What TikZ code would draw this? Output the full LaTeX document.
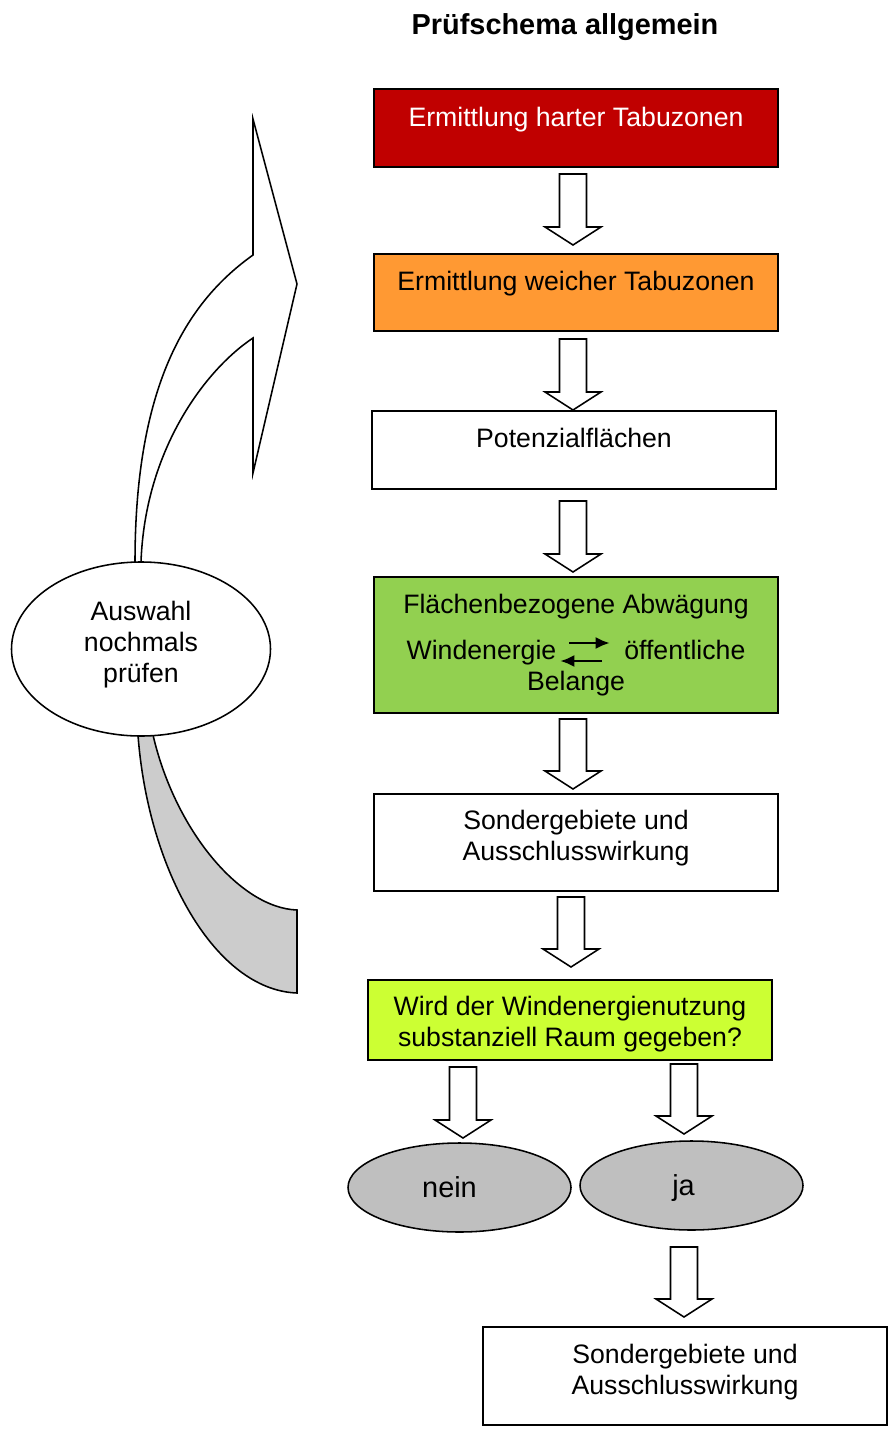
\documentclass[tikz,border=0pt]{standalone}
\usepackage{fontspec}
\setmainfont{Liberation Sans}
\usetikzlibrary{shapes.geometric,arrows.meta}
\definecolor{taburot}{RGB}{192,0,0}
\definecolor{tabuorange}{RGB}{255,153,51}
\definecolor{abwgruen}{RGB}{146,208,80}
\definecolor{fragegelb}{RGB}{204,255,51}
\definecolor{ovalgrau}{RGB}{191,191,191}
\definecolor{bogengrau}{RGB}{204,204,204}
\newcommand\pxl{0.45pt}
\newcommand\blockpfeil[3]{\draw[pfeil] (#1-13.5,#2)--(#1+13.5,#2)--(#1+13.5,#3-18)--(#1+28,#3-18)--(#1,#3)--(#1-28,#3-18)--(#1-13.5,#3-18)--cycle;}

\begin{document}
\begin{tikzpicture}[x=0.45pt,y=-0.45pt,line width=0.7pt,font=\fontsize{12}{14}\selectfont,
    kasten/.style={draw,minimum width=404*\pxl,minimum height=#1*\pxl,align=center,inner sep=0pt,text height=9pt},
    pfeil/.style={draw,fill=white},
    oval/.style={ellipse,draw,fill=#1,inner sep=0pt,align=center,text height=9pt,minimum width=223*\pxl,minimum height=89*\pxl}]
    \useasboundingbox (0,0) rectangle (891,1430);
    \node[font=\bfseries\fontsize{13}{15}\selectfont] (titel) at (565,27) {Prüfschema allgemein};

    \node[kasten=78,fill=taburot,text=white,text depth=10.3pt] (hart) at (576,128) {Ermittlung harter Tabuzonen};
    \node[kasten=77,fill=tabuorange,text depth=10.8pt] (weich) at (576,292.5) {Ermittlung weicher Tabuzonen};
    \node[kasten=78,fill=white,text depth=11.2pt] (potenzial) at (574,450) {Potenzialflächen};
    \node[kasten=136,fill=abwgruen,text height=50pt,text depth=9pt] (abw) at (576,645) {Flächenbezogene Abwägung\\[6.7pt]Windenergie\hspace{30.6pt}öffentliche\\Belange};
    \node[kasten=97,fill=white,text height=30pt,text depth=13.8pt] (sonder) at (576,842.5) {Sondergebiete und\\Ausschlusswirkung};
    \node[kasten=80,fill=fragegelb,text height=30pt,text depth=6.1pt] (frage) at (570,1020) {Wird der Windenergienutzung\\substanziell Raum gegeben?};
    \node[oval=ovalgrau,font=\fontsize{13}{15}\selectfont,text depth=0pt] (nein) at (459.5,1187.5) {nein\hspace*{9pt}};
    \node[oval=ovalgrau,font=\fontsize{13}{15}\selectfont,text depth=0pt] (ja) at (691.5,1185.5) {ja\hspace*{7.2pt}};
    \node[kasten=98,fill=white,text height=30pt,text depth=13.3pt] (sonderja) at (685,1376) {Sondergebiete und\\Ausschlusswirkung};

    \coordinate (hin1) at (569,643);
    \coordinate (hin2) at (610,643);
    \coordinate (her1) at (602,661);
    \coordinate (her2) at (560,661);
    \draw[-{Latex[length=6.5pt,width=5.5pt]},line width=1.3pt] (hin1) -- (hin2);
    \draw[-{Latex[length=6.5pt,width=5.5pt]},line width=1.3pt] (her1) -- (her2);

    \blockpfeil{573}{174}{245}
    \blockpfeil{573}{339}{410}
    \blockpfeil{573}{501}{572}
    \blockpfeil{573}{719}{789}
    \blockpfeil{571}{897}{967}
    \blockpfeil{463}{1067}{1138}
    \blockpfeil{684}{1064}{1134}
    \blockpfeil{684}{1247}{1317}

    \draw[fill=white] (135,575) -- (135,562) .. controls (135,380) and (190,300) .. (253,255) -- (253,119) -- (297,284) -- (253,473) -- (253,338) .. controls (205,370) and (145,450) .. (141,562) -- (141,575) -- cycle;
    \draw[fill=bogengrau] (138,725) -- (138,735) .. controls (148,870) and (215,990) .. (297,993) -- (297,910) .. controls (240,908) and (175,830) .. (153,735) -- (153,725) -- cycle;
    \node[oval=white,minimum width=259*\pxl,minimum height=174*\pxl,text height=40pt,text depth=9.8pt] (auswahl) at (141,649) {Auswahl\\nochmals\\prüfen};
\end{tikzpicture}
\end{document}
